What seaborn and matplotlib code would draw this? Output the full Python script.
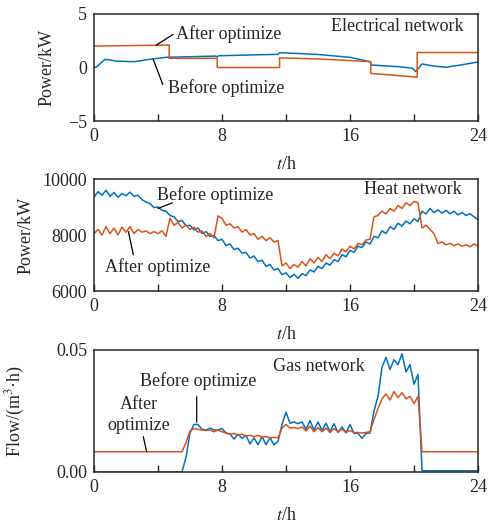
import numpy as np
import pandas as pd
import matplotlib
matplotlib.use('Agg')
import matplotlib.pyplot as plt
import seaborn as sns

# ============================================
# DATA
# ============================================
BLUE = '#0072BD'
ORANGE = '#D95319'

# electrical network (piecewise, kW)
elec_t_before = [0, 0.15, 0.7, 1.4, 2.5, 3.5, 4.5, 5.8, 7.6, 7.7, 7.8, 9.75, 11.5, 11.6, 12.0,
                 13.9, 16.0, 17.25, 17.35, 19.1, 19.9, 20.1, 20.5, 21.2, 22.0, 22.9, 23.9, 24]
elec_before = [0.0, 0.05, 0.77, 0.6, 0.54, 0.77, 0.95, 1.0, 1.07, 1.0, 1.1, 1.17, 1.23, 1.38, 1.36,
               1.23, 0.95, 0.54, 0.23, 0.07, -0.07, -0.39, 0.33, 0.14, 0.02, 0.23, 0.49, 0.5]
elec_t_after = [0, 4.7, 4.7, 7.7, 7.7, 11.6, 11.6, 14.0, 17.3, 17.3, 20.2, 20.2, 24]
elec_after = [2.0, 2.1, 0.86, 0.86, 0.0, 0.0, 0.9, 0.8, 0.55, -0.55, -0.9, 1.4, 1.4]

# heat network (kW), every 0.25 h
hours = np.arange(0, 24.001, 0.25)
heat_before = [
    9350, 9550, 9420, 9600, 9380, 9520, 9350, 9480,
    9400, 9530, 9380, 9420, 9260, 9180, 9120, 8980,
    9000, 8880, 8850, 8700, 8650, 8480, 8520, 8330,
    8350, 8180, 8250, 8050, 8120, 7950, 7980, 7800,
    7850, 7620, 7680, 7480, 7530, 7350, 7380, 7180,
    7250, 7050, 7100, 6880, 6950, 6750, 6800, 6580,
    6650, 6480, 6600, 6450, 6620, 6550, 6750, 6680,
    6880, 6800, 7000, 6920, 7120, 7050, 7300, 7220,
    7450, 7380, 7600, 7550, 7750, 7680, 7950, 7900,
    8150, 8050, 8300, 8200, 8420, 8320, 8500, 8400,
    8580, 8480, 8850, 8750, 8950, 8800, 8900, 8780,
    8880, 8760, 8850, 8720, 8800, 8700, 8760, 8650,
    8550]
heat_after = [
    8050, 8200, 8000, 8300, 8050, 8250, 8000, 8280,
    8100, 8300, 8050, 8200, 8100, 8150, 8050, 8120,
    8050, 8150, 7950, 8600, 8350, 8450, 8250, 8350,
    8200, 8280, 8100, 8150, 7950, 8050, 7900, 8680,
    8600, 8350, 8400, 8250, 8300, 8100, 8200, 8000,
    8050, 7850, 7950, 7800, 7900, 7750, 7800, 6900,
    7000, 6800, 6950, 6850, 7050, 6900, 7150, 7000,
    7200, 7050, 7300, 7150, 7350, 7250, 7500, 7400,
    7600, 7500, 7700, 7650, 7820, 7850, 8650, 8700,
    8850, 8750, 8950, 8850, 9050, 8950, 9150, 9050,
    9200, 9150, 8250, 8350, 8200, 8050, 7700, 7750,
    7650, 7700, 7620, 7680, 7600, 7650, 7580, 7680,
    7600]

# gas network (m3/h), every 0.25 h
gas_before = [
    0, 0, 0, 0, 0, 0, 0, 0,
    0, 0, 0, 0, 0, 0, 0, 0,
    0, 0, 0, 0, 0, 0, 0, 0.006,
    0.016, 0.0195, 0.0195, 0.0175, 0.0172, 0.018, 0.0172, 0.0172,
    0.0178, 0.016, 0.0155, 0.0135, 0.0155, 0.0138, 0.015, 0.0115,
    0.014, 0.0112, 0.0145, 0.0112, 0.014, 0.0112, 0.0125, 0.0195,
    0.0245, 0.02, 0.0205, 0.0198, 0.0205, 0.0175, 0.021, 0.0172,
    0.0205, 0.017, 0.02, 0.0165, 0.0198, 0.0162, 0.0185, 0.016,
    0.0195, 0.0158, 0.0158, 0.0138, 0.0158, 0.016, 0.025, 0.031,
    0.043, 0.047, 0.042, 0.046, 0.044, 0.0485, 0.041, 0.044,
    0.036, 0.040, 0.0005, 0.0005, 0.0005, 0.0005, 0.0005, 0.0005,
    0.0005, 0.0005, 0.0005, 0.0005, 0.0005, 0.0005, 0.0005, 0.0005,
    0.0005]
gas_after = [
    0.0083, 0.0083, 0.0083, 0.0083, 0.0083, 0.0083, 0.0083, 0.0083,
    0.0083, 0.0083, 0.0083, 0.0083, 0.0083, 0.0083, 0.0083, 0.0083,
    0.0083, 0.0083, 0.0083, 0.0083, 0.0083, 0.0083, 0.0083, 0.012,
    0.0168, 0.0178, 0.0175, 0.0172, 0.017, 0.0172, 0.0165, 0.0172,
    0.0165, 0.016, 0.0155, 0.0158, 0.015, 0.0155, 0.0148, 0.015,
    0.0145, 0.015, 0.0142, 0.0145, 0.014, 0.0142, 0.014, 0.018,
    0.0195, 0.018, 0.0182, 0.0178, 0.0185, 0.0168, 0.0188, 0.0165,
    0.0182, 0.0165, 0.018, 0.0162, 0.0178, 0.0165, 0.0175, 0.0162,
    0.017, 0.0162, 0.0162, 0.016, 0.0162, 0.0165, 0.0215, 0.026,
    0.030, 0.032, 0.0295, 0.033, 0.0305, 0.0325, 0.030, 0.031,
    0.028, 0.031, 0.0083, 0.0083, 0.0083, 0.0083, 0.0083, 0.0083,
    0.0083, 0.0083, 0.0083, 0.0083, 0.0083, 0.0083, 0.0083, 0.0083,
    0.0083]

# ============================================
# STYLE
# ============================================
sns.set_style('ticks')
plt.rcParams['font.family'] = ['Liberation Serif', 'DejaVu Serif']
plt.rcParams['mathtext.fontset'] = 'stix'
plt.rcParams['font.size'] = 13
plt.rcParams['axes.linewidth'] = 1.1

fig = plt.figure(figsize=(4.92, 5.26), dpi=100)
L, W = 94 / 492, 384 / 492
ax1 = fig.add_axes([L, 1 - 121 / 526, W, 107 / 526])
ax2 = fig.add_axes([L, 1 - 291 / 526, W, 112 / 526])
ax3 = fig.add_axes([L, 1 - 472 / 526, W, 122 / 526])

line_kw = dict(estimator=None, sort=False, linewidth=1.1, legend=False)

# ============================================
# 1. ELECTRICAL
# ============================================
sns.lineplot(x=elec_t_before, y=elec_before, color=BLUE, ax=ax1, **line_kw)
sns.lineplot(x=elec_t_after, y=elec_after, color=ORANGE, ax=ax1, **line_kw)
ax1.set_ylim(-5, 5)
ax1.set_yticks([-5, 0, 5])
ax1.text(23.1, 3.8, 'Electrical network', ha='right', va='center')
ax1.text(5.1, 3.1, 'After optimize', ha='left', va='center')
ax1.text(4.6, -1.9, 'Before optimize', ha='left', va='center')
ax1.annotate('', xy=(3.9, 2.1), xytext=(4.95, 3.1),
             arrowprops=dict(arrowstyle='-', color='k', lw=0.9, shrinkA=0, shrinkB=0))
ax1.annotate('', xy=(3.7, 0.77), xytext=(4.3, -1.6),
             arrowprops=dict(arrowstyle='-', color='k', lw=0.9, shrinkA=0, shrinkB=0))

# ============================================
# 2. HEAT
# ============================================
sns.lineplot(x=hours, y=heat_before, color=BLUE, ax=ax2, **line_kw)
sns.lineplot(x=hours, y=heat_after, color=ORANGE, ax=ax2, **line_kw)
ax2.set_ylim(6000, 10000)
ax2.set_yticks([6000, 8000, 10000])
ax2.text(23.0, 9610, 'Heat network', ha='right', va='center')
ax2.text(3.95, 9430, 'Before optimize', ha='left', va='center')
ax2.text(0.7, 6870, 'After optimize', ha='left', va='center')
ax2.annotate('', xy=(4.0, 8950), xytext=(4.9, 9150),
             arrowprops=dict(arrowstyle='-', color='k', lw=0.9, shrinkA=0, shrinkB=0))
ax2.annotate('', xy=(2.15, 8120), xytext=(2.46, 7290),
             arrowprops=dict(arrowstyle='-', color='k', lw=0.9, shrinkA=0, shrinkB=0))

# ============================================
# 3. GAS
# ============================================
sns.lineplot(x=hours, y=gas_before, color=BLUE, ax=ax3, **line_kw)
sns.lineplot(x=hours, y=gas_after, color=ORANGE, ax=ax3, **line_kw)
ax3.set_ylim(0, 0.05)
ax3.set_yticks([0, 0.05])
ax3.set_yticklabels(['0.00', '0.05'])
ax3.text(11.2, 0.0432, 'Gas network', ha='left', va='center')
ax3.text(2.9, 0.0374, 'Before optimize', ha='left', va='center')
ax3.text(2.8, 0.0233, 'After\noptimize', ha='center', va='center', linespacing=1.3)
ax3.annotate('', xy=(6.42, 0.0204), xytext=(6.42, 0.0309),
             arrowprops=dict(arrowstyle='-', color='k', lw=0.9, shrinkA=0, shrinkB=0))
ax3.annotate('', xy=(3.29, 0.0083), xytext=(3.08, 0.0145),
             arrowprops=dict(arrowstyle='-', color='k', lw=0.9, shrinkA=0, shrinkB=0))

# ============================================
# AXES FORMATTING
# ============================================
ylabels = ['Power/kW', 'Power/kW', 'Flow/(m$^{3}$·h)']
ylab_x = [-0.1, -0.155, -0.175]
for ax, lab, lx in zip([ax1, ax2, ax3], ylabels, ylab_x):
    ax.set_xlim(0, 24)
    ax.set_xticks([0, 4, 8, 12, 16, 20, 24])
    ax.set_xticklabels(['0', '', '8', '', '16', '', '24'])
    ax.tick_params(axis='x', direction='in', length=5, width=1.0, pad=5)
    ax.tick_params(axis='y', length=0, pad=5)
    ax.set_xlabel('$t$/h', labelpad=8)
    ax.set_ylabel(lab)
    ax.yaxis.set_label_coords(lx, 0.5)
    for s in ax.spines.values():
        s.set_visible(True)
        s.set_linewidth(1.1)

plt.savefig('out.png', dpi=100)
plt.close()
